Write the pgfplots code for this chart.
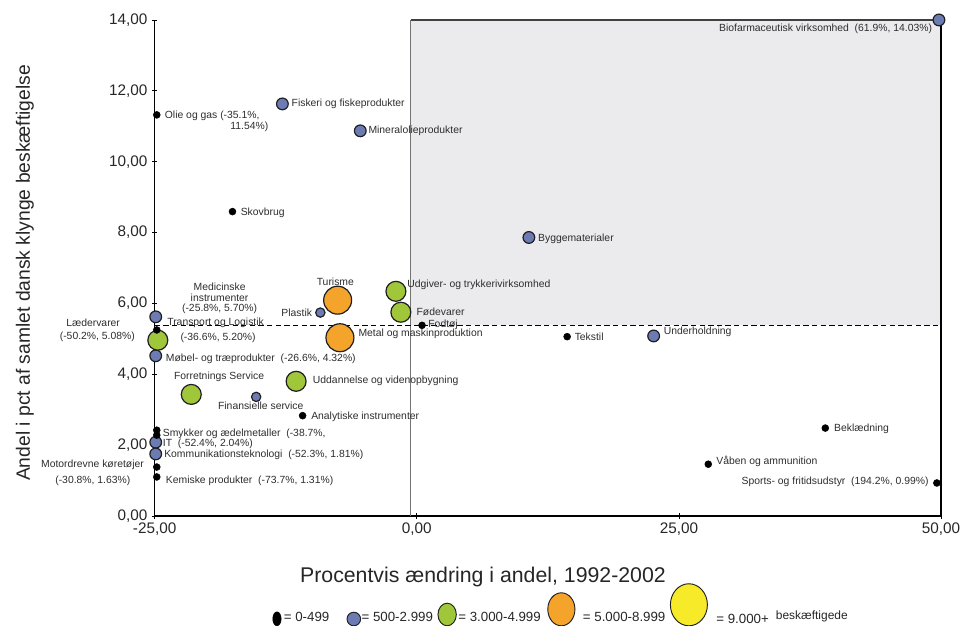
\documentclass[border=0pt]{standalone}
\usepackage{pgfplots}
\pgfplotsset{compat=1.18}
\usepackage{fontspec}
\setmainfont{Liberation Sans}
\definecolor{cblue}{RGB}{108,124,178}
\definecolor{cgreen}{RGB}{160,198,58}
\definecolor{corange}{RGB}{244,164,42}
\definecolor{cyellow}{RGB}{247,234,40}
\definecolor{cshade}{RGB}{235,235,238}
\definecolor{labcol}{RGB}{45,45,45}
\definecolor{mkedge}{RGB}{30,30,35}
\newcommand\lbl{\fontsize{7.8}{8.2}\selectfont}
\tikzset{lab/.style={font=\lbl, inner sep=0pt, text=labcol}}
\begin{document}
\begin{tikzpicture}
\begin{axis}[
  name=ax,
  scale only axis,
  width=591pt, height=372.75pt,
  xmin=-25, xmax=50, ymin=0, ymax=14,
  clip=false,
  axis x line*=bottom, axis y line*=left,
  axis line style={black, line width=1.1pt, -},
  xtick={-25,0,25,50}, ytick={0,2,4,6,8,10,12,14},
  tick align=center, major tick length=4pt,
  tick style={black, line width=0.6pt},
  ticklabel style={font=\fontsize{11.5}{13}\selectfont, text=black!85},
  /pgf/number format/fixed, /pgf/number format/fixed zerofill,
  /pgf/number format/precision=2, /pgf/number format/use comma,
  /pgf/number format/assume math mode=true,
  xlabel={Procentvis ændring i andel, 1992-2002},
  xlabel style={at={(axis description cs:0.4175,-0.1227)}, anchor=center, font=\fontsize{16}{18}\selectfont, text=black!85},
  ylabel={Andel i pct af samlet dansk klynge beskæftigelse},
  ylabel style={at={(axis description cs:-0.165,0.49)}, anchor=center, font=\fontsize{14.5}{16}\selectfont, text=black!85},
  legend style={at={(axis description cs:0.1495,-0.2233)}, anchor=south west, draw=none, fill=none, inner sep=0pt,
    font=\fontsize{10}{12}\selectfont, text=black!85,
    nodes={inner xsep=0pt, inner ysep=0.5pt}},
  legend columns=5,
  legend cell align=left,
]
% background shading and reference lines
\fill[cshade] (axis cs:-0.6,5.38) rectangle (axis cs:50,14);
\draw[black!75, line width=0.9pt] (axis cs:-0.6,14) -- (axis cs:50,14);
\draw[black!55, line width=1pt] (axis cs:-0.6,0) -- (axis cs:-0.6,14);
\draw[black, line width=1pt] (axis cs:50,0) -- (axis cs:50,14);
\draw[black, line width=1.2pt, dash pattern=on 4pt off 2.5pt] (axis cs:-25,5.38) -- (axis cs:50,5.38);

% 500-2.999
\addplot[only marks, mark=*, mark size=4.4pt, mark options={fill=cblue, draw=mkedge, line width=0.9pt}, forget plot] coordinates {
(49.8,14.0) (-12.82,11.63) (-5.39,10.87) (10.69,7.86) (22.59,5.08)
(-24.9,5.62) (-24.9,4.52) (-24.9,2.08) (-24.9,1.75)
};
\addplot[only marks, mark=*, mark size=3.5pt, mark options={fill=cblue, draw=mkedge, line width=0.9pt}, forget plot] coordinates {
(-9.2,5.74) (-15.32,3.36)
};
% 3.000-4.999
\addplot[only marks, mark=*, mark size=7.5pt, mark options={fill=cgreen, draw=mkedge, line width=0.9pt}, forget plot] coordinates {
(-1.99,6.34) (-1.52,5.75) (-24.7,4.96) (-21.51,3.43) (-11.51,3.80)
};
% 5.000-8.999
\addplot[only marks, mark=*, mark size=10.5pt, mark options={fill=corange, draw=mkedge, line width=0.9pt}, forget plot] coordinates {
(-7.55,6.09) (-7.33,5.03)
};
% 0-499 employees
\addplot[only marks, mark=*, mark size=2.6pt, mark options={fill=black, draw=black}, forget plot] coordinates {
(-24.8,11.32) (-17.58,8.59) (0.5,5.38) (14.34,5.06) (-24.8,5.25) (-10.89,2.83)
(-24.8,2.42) (-24.8,2.28) (-24.8,1.38) (-24.8,1.10) (38.96,2.48) (27.8,1.46) (49.6,0.93)
};

% legend
\addlegendimage{legend image code/.code={\path[draw=none, fill=none] (0,0) -- (8.3pt,0);
  \fill[black] (3.15pt,-0.55pt) ellipse (3.15pt and 5.25pt);}}
\addlegendentry{= 0-499}
\addlegendimage{legend image code/.code={\path[draw=none, fill=none] (0,0) -- (24.25pt,0);
  \draw[fill=cblue, draw=mkedge, line width=0.7pt] (18.4pt,-0.7pt) ellipse (5.1pt and 5.1pt);}}
\addlegendentry{= 500-2.999}
\addlegendimage{legend image code/.code={\path[draw=none, fill=none] (0,0) -- (19.05pt,0);
  \draw[fill=cgreen, draw=mkedge, line width=0.7pt] (10.65pt,2.7pt) ellipse (6.9pt and 8.5pt);}}
\addlegendentry{= 3.000-4.999}
\addlegendimage{legend image code/.code={\path[draw=none, fill=none] (0,0) -- (31.65pt,0);
  \draw[fill=corange, draw=mkedge, line width=0.7pt] (15.45pt,6.6pt) ellipse (10.2pt and 12.4pt);}}
\addlegendentry{= 5.000-8.999}
\addlegendimage{legend image code/.code={\path[draw=none, fill=none] (0,0) -- (38.3pt,0);
  \draw[fill=cyellow, draw=mkedge, line width=0.7pt] (17.65pt,10pt) ellipse (13.9pt and 15.8pt);}}
\addlegendentry{= 9.000+\hspace{5.25pt}\raisebox{3.5pt}{\fontsize{9}{10}\selectfont beskæftigede}}

% labels
\node[lab, anchor=east] at (axis cs:49.17,13.74) {Biofarmaceutisk virksomhed\ \ (61.9\%, 14.03\%)};
\node[lab, anchor=west] at (axis cs:-24.05,11.28) {Olie og gas (-35.1\%,};
\node[lab, anchor=west] at (axis cs:-17.80,10.99) {11.54\%)};
\node[lab, anchor=west] at (axis cs:-11.96,11.63) {Fiskeri og fiskeprodukter};
\node[lab, anchor=west] at (axis cs:-4.63,10.87) {Mineralolieprodukter};
\node[lab, anchor=west] at (axis cs:-16.81,8.56) {Skovbrug};
\node[lab, anchor=west] at (axis cs:11.55,7.83) {Byggematerialer};
\node[lab, anchor=center] at (axis cs:-7.77,6.62) {Turisme};
\node[lab, anchor=west] at (axis cs:-0.92,6.51) {Udgiver- og trykkerivirksomhed};
\node[lab, anchor=east] at (axis cs:-9.97,5.74) {Plastik};
\node[lab, anchor=west] at (axis cs:-0.04,5.77) {Fødevarer};
\node[lab, anchor=west] at (axis cs:1.08,5.39) {Fodtøj};
\node[lab, anchor=west] at (axis cs:-5.58,5.13) {Metal og maskinproduktion};
\node[lab, anchor=west] at (axis cs:15.04,5.05) {Tekstil};
\node[lab, anchor=west] at (axis cs:23.54,5.20) {Underholdning};
\node[lab, anchor=center, align=center, font=\fontsize{7.8}{7.9}\selectfont] at (axis cs:-18.81,6.14) {Medicinske\\instrumenter\\(-25.8\%, 5.70\%)};
\node[lab, anchor=center] at (axis cs:-19.19,5.44) {Transport og Logistik};
\node[lab, anchor=center] at (axis cs:-18.96,5.04) {(-36.6\%, 5.20\%)};
\node[lab, anchor=center] at (axis cs:-30.87,5.44) {Lædervarer};
\node[lab, anchor=center] at (axis cs:-30.47,5.06) {(-50.2\%, 5.08\%)};
\node[lab, anchor=west] at (axis cs:-23.95,4.44) {Møbel- og træprodukter\ \ (-26.6\%, 4.32\%)};
\node[lab, anchor=center] at (axis cs:-18.86,3.94) {Forretnings Service};
\node[lab, anchor=west] at (axis cs:-9.93,3.80) {Uddannelse og videnopbygning};
\node[lab, anchor=center] at (axis cs:-14.88,3.10) {Finansielle service};
\node[lab, anchor=west] at (axis cs:-10.09,2.81) {Analytiske instrumenter};
\node[lab, anchor=west] at (axis cs:-24.24,2.31) {Smykker og ædelmetaller\ \ (-38.7\%,};
\node[lab, anchor=west] at (axis cs:-24.24,2.04) {IT\ \ (-52.4\%, 2.04\%)};
\node[lab, anchor=west] at (axis cs:-24.11,1.72) {Kommunikationsteknologi\ \ (-52.3\%, 1.81\%)};
\node[lab, anchor=center] at (axis cs:-30.93,1.44) {Motordrevne køretøjer};
\node[lab, anchor=center] at (axis cs:-30.90,0.99) {(-30.8\%, 1.63\%)};
\node[lab, anchor=west] at (axis cs:-23.95,0.99) {Kemiske produkter\ \ (-73.7\%, 1.31\%)};
\node[lab, anchor=west] at (axis cs:39.78,2.47) {Beklædning};
\node[lab, anchor=west] at (axis cs:28.55,1.53) {Våben og ammunition};
\node[lab, anchor=east] at (axis cs:48.83,0.97) {Sports- og fritidsudstyr\ \ (194.2\%, 0.99\%)};
\end{axis}
\pgfresetboundingbox
\path ([shift={(-116.25pt,-82.5pt)}]ax.south west) rectangle ([shift={(15pt,15pt)}]ax.north east);
\end{tikzpicture}
\end{document}
